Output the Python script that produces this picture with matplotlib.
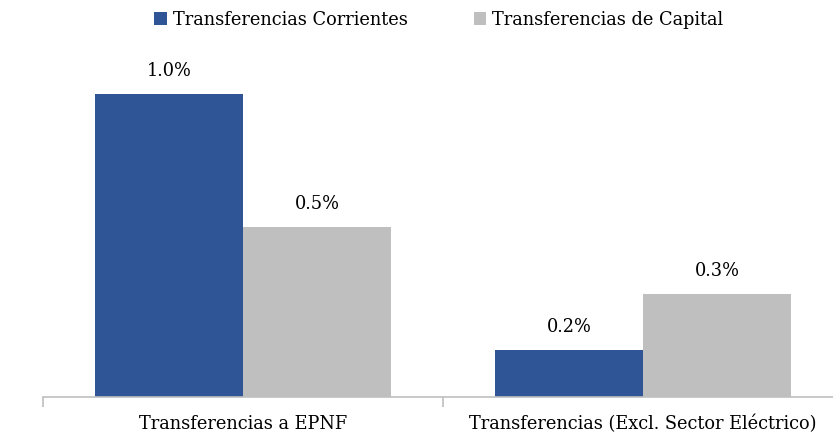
import numpy as np
import matplotlib.pyplot as plt

# data (share of GDP, %)
categories = ["Transferencias a EPNF", "Transferencias (Excl. Sector Eléctrico)"]
corrientes = [0.98, 0.152]
capital = [0.548, 0.333]
series_names = ["Transferencias Corrientes", "Transferencias de Capital"]

plt.rcParams['font.family'] = ['DejaVu Serif']
plt.rcParams['font.size'] = 12.8

fig = plt.figure(figsize=(8.33, 4.43), dpi=100)
ax = fig.add_axes([43 / 833, 46.5 / 443, 800 / 833, 371 / 443])

x = np.arange(len(categories))
w = 0.37
b1 = ax.bar(x - w / 2, corrientes, w, color='#2F5597', label=series_names[0])
b2 = ax.bar(x + w / 2, capital, w, color='#BFBFBF', label=series_names[1])

for bars, vals in ((b1, corrientes), (b2, capital)):
    for rect, v in zip(bars, vals):
        ax.annotate(f"{v:.1f}%", (rect.get_x() + rect.get_width() / 2, v),
                    xytext=(0, 10), textcoords='offset points',
                    ha='center', va='bottom')

ax.set_xlim(-0.5, 1.5)
ax.set_ylim(0, 1.2)
ax.set_yticks([])
for s in ('top', 'right', 'left'):
    ax.spines[s].set_visible(False)
ax.spines['bottom'].set_color('#BFBFBF')
ax.spines['bottom'].set_linewidth(1.2)

ax.set_xticks([-0.5, 0.5, 1.5])
ax.set_xticklabels([])
ax.tick_params(axis='x', length=7, color='#BFBFBF', width=1.2)
ax.set_xticks(x, minor=True)
ax.set_xticklabels(categories, minor=True)
ax.tick_params(axis='x', which='minor', length=0, pad=13)

fig.legend(handles=[b1, b2], loc='center', bbox_to_anchor=(0.527, 0.955), ncol=2,
           frameon=False, handlelength=0.7, handleheight=0.7, handletextpad=0.35,
           columnspacing=3.7)

fig.savefig('out.png', dpi=100)
